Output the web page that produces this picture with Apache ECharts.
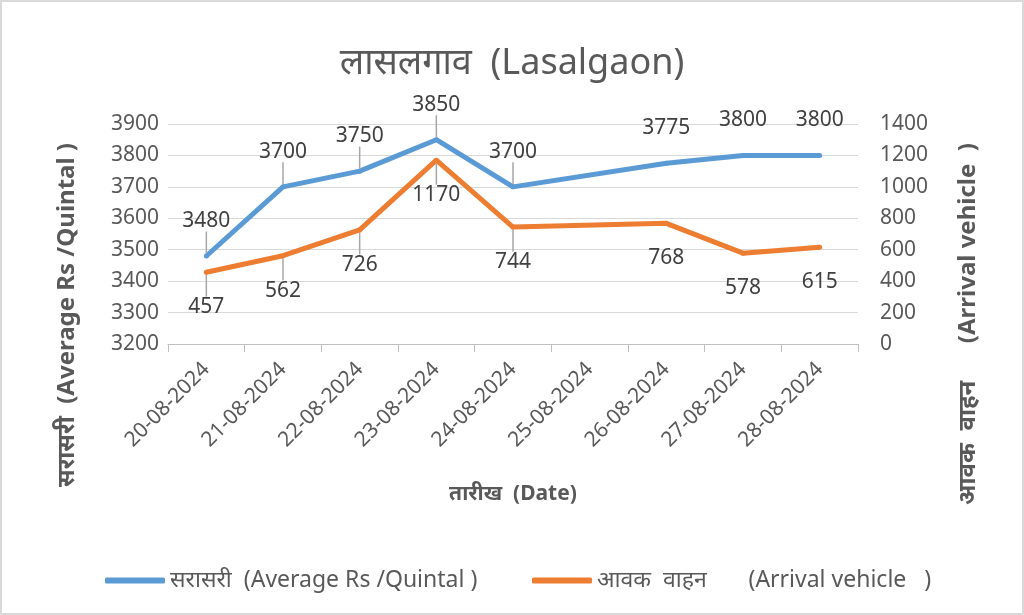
<!DOCTYPE html>
<html><head><meta charset="utf-8">
<script src="https://cdn.jsdelivr.net/npm/echarts@6/dist/echarts.min.js"></script>
<style>
html,body{margin:0;padding:0;background:#fff;}
#c{width:1020px;height:611px;border:2px solid #D9D9D9;}
</style></head>
<body><div id="c"></div>
<script>
const dates = ['20-08-2024','21-08-2024','22-08-2024','23-08-2024','24-08-2024','25-08-2024','26-08-2024','27-08-2024','28-08-2024'];
const avgPrice = [3480, 3700, 3750, 3850, 3700, null, 3775, 3800, 3800];
const arrivals = [457, 562, 726, 1170, 744, null, 768, 578, 615];
const priceTicks = [3200, 3900, 100];
const arrivalTicks = [0, 1400, 200];
const leaderPrice = [true, true, true, true, true, false, false, false, false];
const leaderArrival = [true, true, true, true, true, false, false, false, false];

const FONT = '"Noto Sans", "Open Sans", sans-serif';
const TXT = '#595959';
const chart = echarts.init(document.getElementById('c'));

function mk(vals, leaders){
  return vals.map((v,i)=> v===null ? null : ({value:v, labelLine:{show:leaders[i]}}));
}
const plain = v => String(v);

chart.setOption({
  animation:false,
  title:{text:'लासलगाव  (Lasalgaon)', left:'center', top:39,
    textStyle:{fontFamily:FONT, fontSize:36, fontWeight:'normal', color:TXT}},
  grid:{left:166, right:164, top:122, bottom:269},
  legend:[
    {left:98, top:562, icon:'roundRect', itemWidth:60, itemHeight:6,
     data:['सरासरी  (Average Rs /Quintal )'],
     textStyle:{fontFamily:FONT, fontSize:23, color:TXT}},
    {left:525, top:562, icon:'roundRect', itemWidth:60, itemHeight:6,
     data:['आवक  वाहन       (Arrival vehicle   )'],
     textStyle:{fontFamily:FONT, fontSize:23, color:TXT}}
  ],
  xAxis:{type:'category', data:dates, boundaryGap:true,
    axisLine:{lineStyle:{color:'#BFBFBF', width:1}},
    axisTick:{show:true, length:8, lineStyle:{color:'#BFBFBF'}},
    axisLabel:{rotate:45, fontFamily:FONT, fontSize:21, color:TXT, margin:22},
    name:'तारीख  (Date)', nameLocation:'middle', nameGap:140,
    nameTextStyle:{fontFamily:FONT, fontSize:21, fontWeight:'bold', color:TXT}},
  yAxis:[
    {type:'value', min:priceTicks[0], max:priceTicks[1], interval:priceTicks[2],
     axisLine:{show:false}, axisTick:{show:false},
     splitLine:{lineStyle:{color:'#D9D9D9', width:1}},
     axisLabel:{fontFamily:FONT, fontSize:21, color:TXT, margin:9, formatter:plain}},
    {type:'value', min:arrivalTicks[0], max:arrivalTicks[1], interval:arrivalTicks[2],
     axisLine:{show:false}, axisTick:{show:false}, splitLine:{show:false},
     axisLabel:{fontFamily:FONT, fontSize:21, color:TXT, margin:22, formatter:plain}}
  ],
  graphic:[
    {type:'text', x:65, y:313, rotation:Math.PI/2,
     style:{text:'सरासरी  (Average Rs /Quintal )', textAlign:'center', textVerticalAlign:'middle',
       font:'bold 24px "Noto Sans", sans-serif', fill:TXT}},
    {type:'text', x:966, y:322, rotation:Math.PI/2,
     style:{text:'आवक  वाहन      (Arrival vehicle  )', textAlign:'center', textVerticalAlign:'middle',
       font:'bold 24px "Noto Sans", sans-serif', fill:TXT}}
  ],
  series:[
    {name:'सरासरी  (Average Rs /Quintal )', type:'line', yAxisIndex:0, data:mk(avgPrice, leaderPrice),
     connectNulls:true, symbol:'circle', symbolSize:5, showSymbol:true,
     color:'#5B9BD5', lineStyle:{width:5, color:'#5B9BD5'}, itemStyle:{color:'#5B9BD5'},
     label:{show:true, position:'top', distance:4, fontFamily:FONT, fontSize:21, color:'#404040'},
     labelLayout:{dy:-18},
     labelLine:{show:true, lineStyle:{color:'#A6A6A6', width:1.5}}},
    {name:'आवक  वाहन       (Arrival vehicle   )', type:'line', yAxisIndex:1, data:mk(arrivals, leaderArrival),
     connectNulls:true, symbol:'circle', symbolSize:5, showSymbol:true,
     color:'#ED7D31', lineStyle:{width:5, color:'#ED7D31'}, itemStyle:{color:'#ED7D31'},
     label:{show:true, position:'bottom', distance:4, fontFamily:FONT, fontSize:21, color:'#404040'},
     labelLayout:{dy:18},
     labelLine:{show:true, lineStyle:{color:'#A6A6A6', width:1.5}}}
  ]
});
</script></body></html>
